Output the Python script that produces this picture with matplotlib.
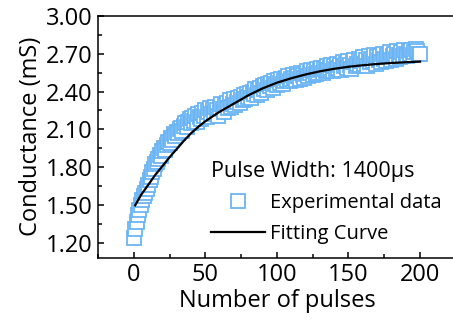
import numpy as np
import matplotlib
matplotlib.use("Agg")
import matplotlib.pyplot as plt
from matplotlib.ticker import MultipleLocator, FormatStrFormatter

plt.rcParams['font.family'] = ['Open Sans', 'DejaVu Sans']

pulses = np.arange(0, 201)
conductance = [
    1.24, 1.31, 1.37, 1.42, 1.46, 1.50, 1.54, 1.57, 1.60, 1.63, 1.66,
    1.70, 1.72, 1.76, 1.79, 1.83, 1.84, 1.87, 1.90, 1.89, 1.93,
    1.95, 1.94, 1.98, 2.00, 1.99, 2.03, 2.02, 2.06, 2.05, 2.08,
    2.07, 2.10, 2.11, 2.09, 2.13, 2.15, 2.12, 2.16, 2.18, 2.15,
    2.19, 2.17, 2.21, 2.16, 2.22, 2.20, 2.18, 2.23, 2.21, 2.25,
    2.20, 2.24, 2.27, 2.22, 2.26, 2.23, 2.28, 2.25, 2.21, 2.27,
    2.30, 2.26, 2.24, 2.29, 2.31, 2.27, 2.33, 2.28, 2.30, 2.34,
    2.29, 2.32, 2.35, 2.31, 2.36, 2.33, 2.37, 2.34, 2.38, 2.36,
    2.39, 2.35, 2.40, 2.38, 2.42, 2.37, 2.41, 2.43, 2.39, 2.44,
    2.42, 2.45, 2.41, 2.46, 2.44, 2.47, 2.43, 2.48, 2.46, 2.45,
    2.49, 2.47, 2.50, 2.46, 2.48, 2.51, 2.49, 2.52, 2.48, 2.50,
    2.53, 2.51, 2.49, 2.54, 2.52, 2.50, 2.55, 2.53, 2.51, 2.54,
    2.56, 2.52, 2.55, 2.57, 2.53, 2.56, 2.54, 2.58, 2.55, 2.57,
    2.59, 2.55, 2.58, 2.56, 2.60, 2.57, 2.59, 2.61, 2.56, 2.60,
    2.58, 2.62, 2.59, 2.61, 2.57, 2.63, 2.60, 2.62, 2.59, 2.64,
    2.61, 2.58, 2.63, 2.65, 2.60, 2.62, 2.66, 2.61, 2.64, 2.67,
    2.62, 2.65, 2.60, 2.68, 2.63, 2.66, 2.64, 2.69, 2.62, 2.67,
    2.65, 2.68, 2.63, 2.70, 2.66, 2.64, 2.69, 2.67, 2.71, 2.65,
    2.68, 2.70, 2.66, 2.72, 2.69, 2.67, 2.71, 2.68, 2.73, 2.70,
    2.68, 2.72, 2.70, 2.73, 2.69, 2.71, 2.74, 2.72, 2.70, 2.70,
]

# fitting curve, sampled along the drawn line
fit_x = [1, 5, 10, 15, 20, 25, 30, 35, 40, 45, 50, 60, 70, 80, 90,
         100, 110, 120, 130, 140, 150, 160, 170, 180, 190, 200]
fit_y = [1.50, 1.58, 1.66, 1.74, 1.81, 1.88, 1.945, 2.01, 2.07, 2.12, 2.165,
         2.24, 2.305, 2.37, 2.425, 2.47, 2.505, 2.535, 2.56, 2.58, 2.596,
         2.608, 2.618, 2.626, 2.632, 2.637]

fig = plt.figure(figsize=(4.53, 3.25), dpi=100)
ax = fig.add_axes([0.2163, 0.207, 0.79, 0.7447])

ax.plot(pulses, conductance, 's', markersize=10.5, markerfacecolor='white',
        markeredgecolor='#6BB5F5', markeredgewidth=1.3, label='Experimental data')
ax.plot(fit_x, fit_y, '-', color='black', lw=1.6, label='Fitting Curve')

ax.set_xlim(-25, 225)
ax.set_ylim(1.085, 3.00)
ax.xaxis.set_major_locator(MultipleLocator(50))
ax.xaxis.set_minor_locator(MultipleLocator(25))
ax.yaxis.set_major_locator(MultipleLocator(0.30))
ax.yaxis.set_minor_locator(MultipleLocator(0.15))
ax.yaxis.set_major_formatter(FormatStrFormatter('%.2f'))
ax.tick_params(which='both', direction='in', width=1.1, labelsize=17, pad=4)
ax.tick_params(which='major', length=4)
ax.tick_params(which='minor', length=3)
for s in ax.spines.values():
    s.set_linewidth(1.1)

ax.set_xlabel('Number of pulses', fontsize=17, labelpad=1)
ax.set_ylabel('Conductance (mS)', fontsize=17, labelpad=2)

leg = ax.legend(title='Pulse Width: 1400\u03bcs', loc='upper left',
                bbox_to_anchor=(201 / 453, 1 - 151 / 325),
                bbox_transform=fig.transFigure, frameon=False, fontsize=14.5,
                title_fontsize=15.5, handlelength=2.7, handletextpad=0.25,
                labelspacing=0.55, borderpad=0, alignment='left')

fig.savefig('out.png', dpi=100)
